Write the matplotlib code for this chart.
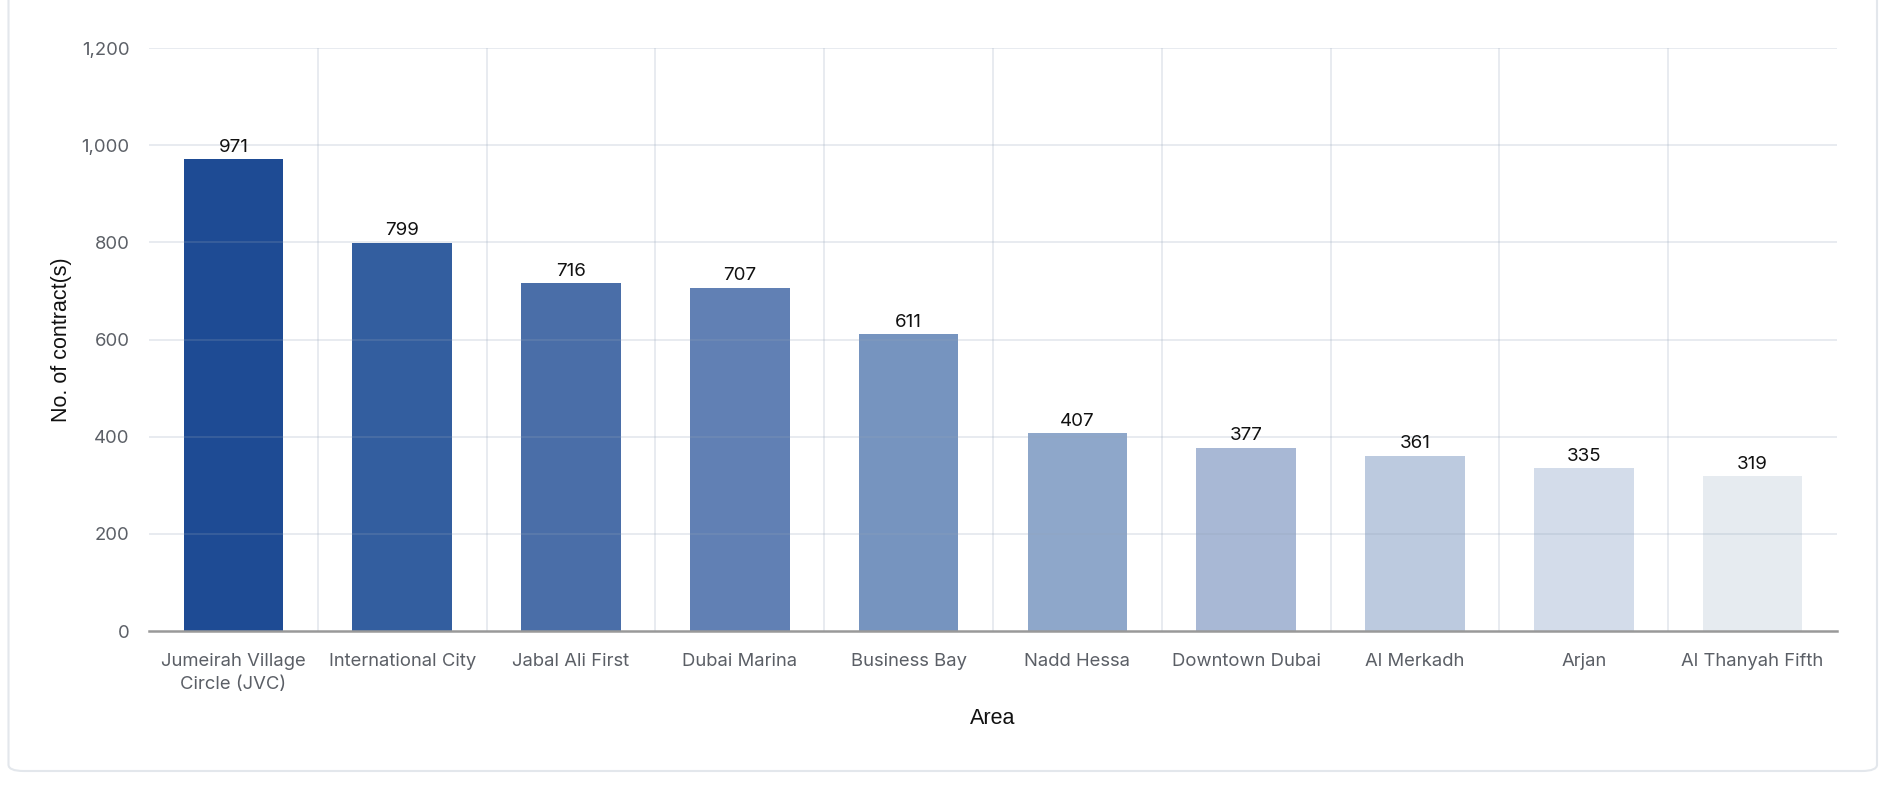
import matplotlib.pyplot as plt
from matplotlib.patches import FancyBboxPatch
from matplotlib.ticker import FuncFormatter

areas = ["Jumeirah Village\nCircle (JVC)", "International City", "Jabal Ali First",
         "Dubai Marina", "Business Bay", "Nadd Hessa", "Downtown Dubai",
         "Al Merkadh", "Arjan", "Al Thanyah Fifth"]
contracts = [971, 799, 716, 707, 611, 407, 377, 361, 335, 319]
bar_colors = ["#1e4b94", "#335e9f", "#4a6ea8", "#6180b4", "#7694bf",
              "#8ea7ca", "#a8b8d5", "#bccadf", "#d3dcea", "#e6ebf0"]
y_ticks = [0, 200, 400, 600, 800, 1000, 1200]

W, H = 1900, 786
fig = plt.figure(figsize=(W / 100, H / 100), dpi=100)
fig.patch.set_facecolor("white")

# card behind the chart
card = FancyBboxPatch((8.5 / W, 15 / H), (1877 - 8.5) / W, 1.2,
                      boxstyle="round,pad=0,rounding_size=0.008",
                      transform=fig.transFigure, facecolor="white",
                      edgecolor="#e3e7ec", linewidth=1.5, zorder=-5)
fig.patches.append(card)

ax = fig.add_axes([149 / W, (H - 631) / H, (1837 - 149) / W, (631 - 48) / H])
ax.set_facecolor("none")
ax.set_zorder(2)

x = list(range(len(areas)))
bars = ax.bar(x, contracts, width=0.59, color=bar_colors, zorder=2)
for xi, v in zip(x, contracts):
    ax.text(xi, v + 7, str(v), ha="center", va="bottom", fontsize=13.5,
            family="Inter", color="#111111", zorder=4)

ax.set_xlim(-0.5, len(areas) - 0.5)
ax.set_ylim(0, 1200)
ax.set_yticks(y_ticks)
ax.yaxis.set_major_formatter(FuncFormatter(lambda v, p: f"{int(v):,}"))
ax.set_xticks(x)
ax.set_xticklabels(areas, family="Inter", fontsize=13.3, color="#5b5f66",
                   linespacing=1.45)
for lab in ax.get_yticklabels():
    lab.set_family("Inter")
    lab.set_fontsize(13.3)
    lab.set_color("#5b5f66")
ax.tick_params(axis="both", length=0)
ax.tick_params(axis="x", pad=16)
ax.tick_params(axis="y", pad=14)

# gridlines drawn over the bars, semi transparent
for yt in y_ticks[1:]:
    ax.axhline(yt, color="#94a3b8", alpha=0.25, linewidth=1.2, zorder=3)
for b in range(1, len(areas)):
    ax.axvline(b - 0.5, color="#94a3b8", alpha=0.25, linewidth=1.2, zorder=1)

for s in ["top", "right", "left"]:
    ax.spines[s].set_visible(False)
ax.spines["bottom"].set_color("#999999")
ax.spines["bottom"].set_linewidth(1.8)
ax.spines["bottom"].set_zorder(5)

fig.text(62 / W, 1 - 340 / H, "No. of contract(s)", rotation=90, ha="center",
         va="center", fontsize=15.5, family="Liberation Sans", color="#111111")
fig.text((149 + 1837) / 2 / W, 1 - 719 / H, "Area", ha="center", va="center",
         fontsize=15.5, family="Liberation Sans", color="#111111")

fig.savefig("out.png", dpi=100, facecolor="white")
